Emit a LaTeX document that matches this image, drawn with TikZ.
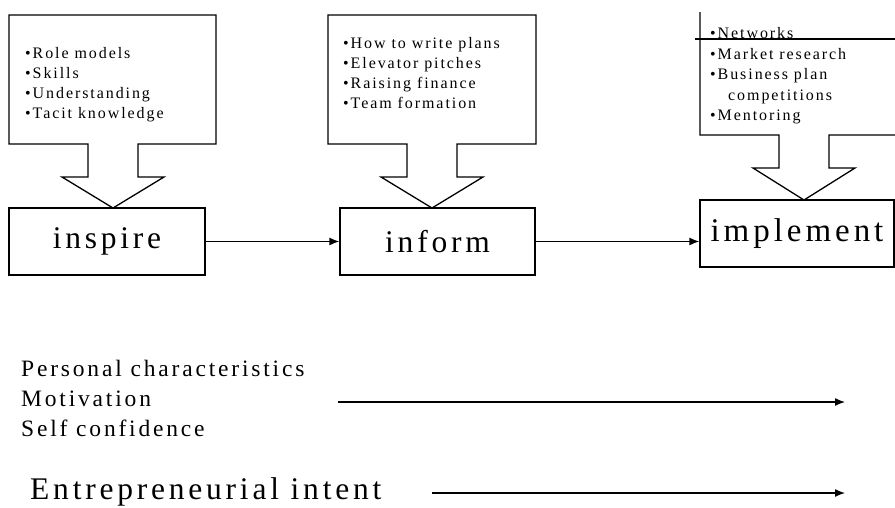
\documentclass[tikz,border=0pt]{standalone}
\usepackage{fontspec}
\setmainfont{Liberation Serif}
\newfontfamily\spaced{Liberation Serif}[LetterSpace=12]
\usetikzlibrary{arrows.meta}
\def\dropbox(#1,#2,#3,#4,#5){\draw[line width=1.3pt] (#1,#2) -- (#3,#2) -- (#3,#4) -- (#5+25,#4) -- (#5+25,#4+33) -- (#5+51,#4+33) -- (#5,#4+64) -- (#5-51,#4+33) -- (#5-25,#4+33) -- (#5-25,#4) -- (#1,#4) -- cycle;}
\tikzset{
	stage/.style={draw, line width=1.3pt, minimum height=67pt, inner sep=0pt, font=\spaced\fontsize{31.5}{40}\selectfont},
	bullets/.style={anchor=west, align=left, inner sep=0pt, font=\spaced\fontsize{16}{20}\selectfont},
	flow/.style={line width=1.3pt, -{Latex[length=10pt,width=8pt]}}
}

\begin{document}
\begin{tikzpicture}[x=1pt, y=-1pt]
			%%%%% START %%%%%
			\useasboundingbox (0,0) rectangle (895,507);
			\clip (0,0) rectangle (895,507);
			
			\dropbox(9,15,216,144,113);
			\node[bullets] (inspirelist) at (25,85) {•Role models\\•Skills\\•Understanding\\•Tacit knowledge};
			
			\dropbox(328,15,536,144,432);
			\node[bullets] (informlist) at (343,73) {•How to write plans\\•Elevator pitches\\•Raising finance\\•Team formation};
			
			\draw[line width=1.3pt] (700,12) -- (700,135) -- (779,135) -- (779,168) -- (753,168) -- (804,200) -- (855,168) -- (829,168) -- (829,135) -- (895,135);
			\draw[line width=1.3pt] (695,39) -- (895,39);
			\node[bullets, font=\spaced\fontsize{16}{20.5}\selectfont] (implementlist) at (710,76) {•Networks\\•Market research\\•Business plan\\\hspace{18pt}competitions\\•Mentoring};
			
			\node[stage, minimum width=196pt] (inspire) at (107,241.5) {inspire};
			\node[stage, minimum width=195pt] (inform) at (437.5,241.5) {inform};
			\node[stage, minimum width=194pt, font=\spaced\fontsize{33}{40}\selectfont] (implement) at (797,233.5) {implement};
			
			\draw[flow] (inspire.east) -- (inform.west);
			\draw[flow] (inform.east) -- (inform.east -| implement.west);
			
			\node[anchor=west, align=left, inner sep=0pt, font=\spaced\fontsize{23.5}{30}\selectfont] (traits) at (21,398) {Personal characteristics\\Motivation\\Self confidence};
			\coordinate (traitsstart) at (338,402);
			\coordinate (traitsend) at (845,402);
			\draw[flow] (traitsstart) -- (traitsend);
			
			\node[anchor=west, inner sep=0pt, font=\spaced\fontsize{31.5}{36}\selectfont] (intent) at (30,492) {Entrepreneurial intent};
			\coordinate (intentstart) at (432,493);
			\coordinate (intentend) at (845,493);
			\draw[flow] (intentstart) -- (intentend);
			
			%%%%% END %%%%%
\end{tikzpicture}
\end{document}
